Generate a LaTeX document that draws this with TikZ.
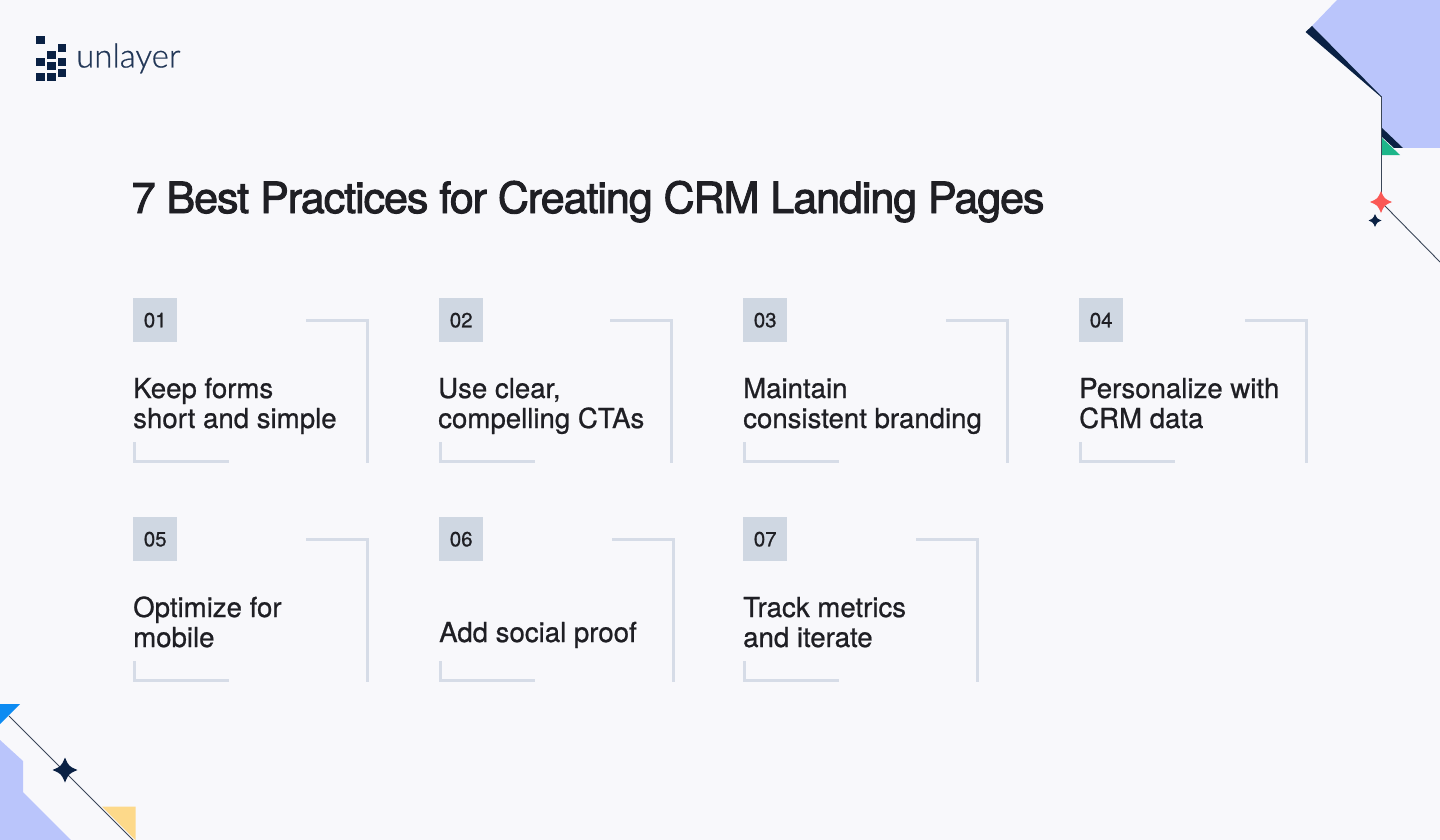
\documentclass[tikz,border=0pt]{standalone}
\usepackage{fontspec}
\setmainfont{TeX Gyre Heros}[FakeBold=0.8]
\newfontfamily\titlefont{TeX Gyre Heros}[FakeBold=2.2,LetterSpace=-2.42]
\newfontfamily\logofont{Lato Light}[FakeBold=0.6]
\definecolor{bgc}{HTML}{F8F8FB}
\definecolor{peri}{HTML}{BAC5FB}
\definecolor{navy}{HTML}{0A2144}
\definecolor{ink}{HTML}{1F1F24}
\definecolor{badgec}{HTML}{CFD7E2}
\definecolor{linec}{HTML}{D6DCE7}
\definecolor{greenc}{HTML}{1DB68A}
\definecolor{redc}{HTML}{FA5855}
\definecolor{bluec}{HTML}{0D8BF2}
\definecolor{yellowc}{HTML}{FDD98A}
\definecolor{hairc}{HTML}{3A4658}
\tikzset{
  titletext/.style={anchor=base west,inner sep=0pt,text=ink,font=\titlefont\fontsize{43}{43}\selectfont},
  cardtext/.style={anchor=base west,inner sep=0pt,text=ink,font=\fontsize{27.6}{30}\selectfont,align=left},
  badge/.style={fill=badgec,draw=none,minimum width=44pt,minimum height=44pt,inner sep=0pt,anchor=north west,text=ink,font=\fontsize{20.5}{20}\selectfont},
  bracket/.style={draw=linec,line width=3pt,line cap=butt,line join=miter},
  logosq/.style={fill=navy,draw=none},
  hairline/.style={draw=hairc,line width=0.9pt},
}
\newcommand{\cardblock}[6]{%
  \node[badge] (b#4) at (#2,#3) {#4};
  \draw[bracket] (#5,#3+22) -- (#6-0.5,#3+22) -- (#6-0.5,#3+165);
  \draw[bracket] (#2+1.5,#3+144) -- (#2+1.5,#3+163.5) -- (#2+96,#3+163.5);
}
\newcommand{\sparkle}[4]{%
  \fill[#4] (#1-#3,#2) .. controls (#1-#3*0.3,#2-#3*0.3) .. (#1,#2-#3)
    .. controls (#1+#3*0.3,#2-#3*0.3) .. (#1+#3,#2)
    .. controls (#1+#3*0.3,#2+#3*0.3) .. (#1,#2+#3)
    .. controls (#1-#3*0.3,#2+#3*0.3) .. cycle;
}
\begin{document}
\begin{tikzpicture}[x=1pt,y=-1pt]
\useasboundingbox (0,0) rectangle (1440,840);
\fill[bgc] (0,0) rectangle (1440,840);
% top right decoration
\fill[peri] (1337,0) -- (1440,0) -- (1440,148) -- (1403,148) -- (1381,127) -- (1381,96) -- (1312,26) -- cycle;
\fill[navy] (1305.5,32) -- (1312,26) -- (1381,96) -- (1381,97) -- cycle;
\fill[navy] (1381,127) -- (1403,148) -- (1394,148) -- (1381,136) -- cycle;
\fill[greenc] (1381,137) -- (1400,155) -- (1381,155) -- cycle;
\coordinate (tl1) at (1381,96);
\coordinate (tl2) at (1381,195);
\coordinate (tl3) at (1384,205);
\coordinate (tl4) at (1440,262);
\draw[hairline] (tl1) -- (tl2);
\draw[hairline] (tl3) -- (tl4);
\sparkle{1381}{202}{11}{redc}
\sparkle{1375}{220.5}{6.5}{navy}
% bottom left decoration
\fill[peri] (0,740) -- (23,761) -- (23,792) -- (71,840) -- (0,840) -- cycle;
\fill[bluec] (0,704) -- (20,704) -- (0,724) -- cycle;
\fill[yellowc] (102,806.5) -- (135.5,806.5) -- (135.5,840) -- cycle;
\coordinate (bl1) at (9,716);
\coordinate (bl2) at (134,841);
\draw[hairline] (bl1) -- (bl2);
\sparkle{65}{770}{12.5}{navy}
% logo
\foreach \x/\y in {36/36,57.5/44,47/51.5,36/58,57.5/58,47/62,36/73,47/73,57.5/69}
  \fill[logosq] (\x,\y) rectangle +(8.5,8);
\node[anchor=base west,inner sep=0pt,text=navy!90!white,font=\logofont\fontsize{33}{33}\selectfont] (logo) at (76,67.5) {unlayer};
% title
\node[titletext] (title) at (131.5,213) {7 Best Practices for Creating CRM Landing Pages};
% cards
\cardblock{c1}{133}{298}{01}{306}{368}
\node[cardtext] (t1a) at (133,398) {Keep forms};
\node[cardtext] (t1b) at (133,428) {short and simple};
\cardblock{c2}{439}{298}{02}{610}{672}
\node[cardtext] (t2a) at (438,398) {Use clear,};
\node[cardtext] (t2b) at (438,428) {compelling CTAs};
\cardblock{c3}{743}{298}{03}{946}{1008}
\node[cardtext] (t3a) at (743,398) {Maintain};
\node[cardtext] (t3b) at (743,428) {consistent branding};
\cardblock{c4}{1079}{298}{04}{1245}{1307}
\node[cardtext] (t4a) at (1079,398) {Personalize with};
\node[cardtext] (t4b) at (1079,428) {CRM data};
\cardblock{c5}{133}{517}{05}{306}{368}
\node[cardtext] (t5a) at (133,617) {Optimize for};
\node[cardtext] (t5b) at (133,647) {mobile};
\cardblock{c6}{439}{517}{06}{612}{674}
\node[cardtext] (t6a) at (439,642) {Add social proof};
\cardblock{c7}{743}{517}{07}{916}{978}
\node[cardtext] (t7a) at (743,617) {Track metrics};
\node[cardtext] (t7b) at (743,647) {and iterate};
\end{tikzpicture}
\end{document}
